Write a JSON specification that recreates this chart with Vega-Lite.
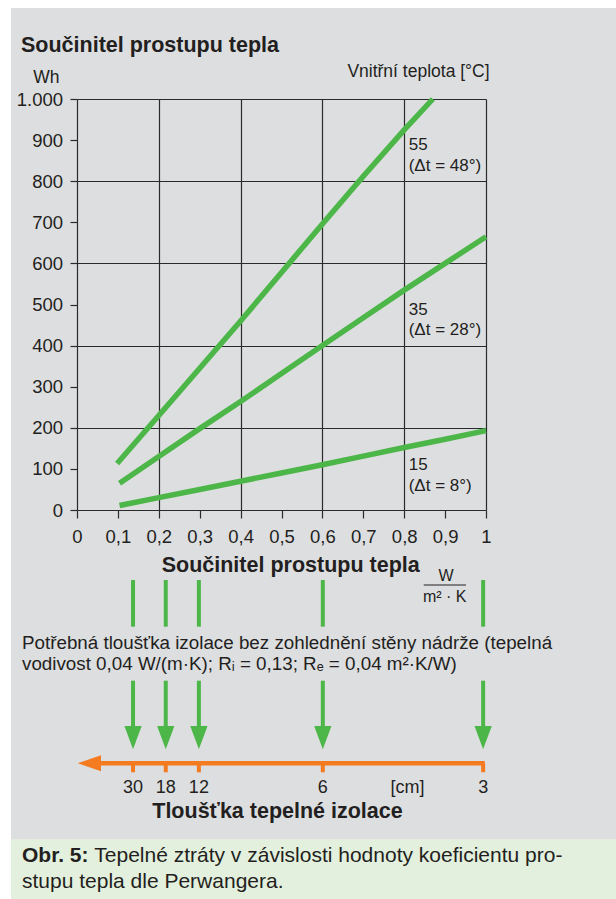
{
  "$schema": "https://vega.github.io/schema/vega-lite/v6.json",
  "width": 409,
  "height": 411,
  "autosize": {"type": "none"},
  "padding": {"left": 77, "top": 99, "right": 130, "bottom": 389},
  "background": "#dddee0",
  "config": {
    "view": {"stroke": null},
    "text": {"font": "Liberation Sans", "color": "#231f20"},
    "axis": {
      "labelFont": "Liberation Sans",
      "labelColor": "#231f20",
      "labelFontSize": 18.5,
      "domainColor": "#2a2a2a",
      "domainWidth": 1.2,
      "tickColor": "#2a2a2a",
      "tickWidth": 1.2,
      "gridColor": "#2a2a2a",
      "gridWidth": 1.2,
      "labelFlush": false,
      "labelOverlap": false,
      "labelBound": false
    }
  },
  "datasets": {
    "lines": [
      {"temp": "55", "u": 0.098, "wh": 113},
      {"temp": "55", "u": 0.2, "wh": 230},
      {"temp": "55", "u": 0.3, "wh": 345},
      {"temp": "55", "u": 0.4, "wh": 460},
      {"temp": "55", "u": 0.5, "wh": 578},
      {"temp": "55", "u": 0.6, "wh": 696},
      {"temp": "55", "u": 0.7, "wh": 812},
      {"temp": "55", "u": 0.8, "wh": 925},
      {"temp": "55", "u": 0.87, "wh": 1000},
      {"temp": "35", "u": 0.104, "wh": 65},
      {"temp": "35", "u": 0.2, "wh": 130},
      {"temp": "35", "u": 0.3, "wh": 198},
      {"temp": "35", "u": 0.4, "wh": 264},
      {"temp": "35", "u": 0.5, "wh": 332},
      {"temp": "35", "u": 0.6, "wh": 400},
      {"temp": "35", "u": 0.7, "wh": 468},
      {"temp": "35", "u": 0.8, "wh": 535},
      {"temp": "35", "u": 0.9, "wh": 600},
      {"temp": "35", "u": 1.0, "wh": 665},
      {"temp": "15", "u": 0.104, "wh": 11},
      {"temp": "15", "u": 0.2, "wh": 30},
      {"temp": "15", "u": 0.3, "wh": 50},
      {"temp": "15", "u": 0.4, "wh": 70},
      {"temp": "15", "u": 0.5, "wh": 90},
      {"temp": "15", "u": 0.6, "wh": 110},
      {"temp": "15", "u": 0.7, "wh": 131},
      {"temp": "15", "u": 0.8, "wh": 152},
      {"temp": "15", "u": 0.9, "wh": 172},
      {"temp": "15", "u": 1.0, "wh": 193}
    ],
    "thickness": [
      {"cm": "30", "u": 0.137},
      {"cm": "18", "u": 0.217},
      {"cm": "12", "u": 0.298},
      {"cm": "6", "u": 0.601},
      {"cm": "3", "u": 0.993}
    ]
  },
  "layer": [
    {
      "data": {"name": "lines"},
      "mark": {"type": "line", "color": "#4cb748", "strokeWidth": 5.5, "strokeCap": "butt"},
      "encoding": {
        "x": {
          "field": "u", "type": "quantitative",
          "scale": {"domain": [0, 1], "nice": false, "zero": false},
          "axis": {
            "title": null,
            "orient": "bottom",
            "values": [0, 0.1, 0.2, 0.3, 0.4, 0.5, 0.6, 0.7, 0.8, 0.9, 1],
            "labelExpr": "replace(format(datum.value, '.1~f'), '.', ',')",
            "tickSize": 8,
            "labelPadding": 9,
            "grid": true,
            "gridOpacity": {"condition": {"test": "round(datum.value * 10) % 2 == 0 && datum.value > 0", "value": 1}, "value": 0}
          }
        },
        "y": {
          "field": "wh", "type": "quantitative",
          "scale": {"domain": [0, 1000], "nice": false, "zero": false},
          "axis": {
            "title": null,
            "orient": "left",
            "values": [0, 100, 200, 300, 400, 500, 600, 700, 800, 900, 1000],
            "labelExpr": "datum.value == 1000 ? '1.000' : format(datum.value, 'd')",
            "tickSize": 7,
            "labelPadding": 7.5,
            "grid": true,
            "gridOpacity": {"condition": {"test": "datum.value % 200 == 0 && datum.value > 0", "value": 1}, "value": 0}
          }
        },
        "detail": {"field": "temp", "type": "nominal"}
      }
    },
    {
      "data": {"values": [{}]},
      "mark": {"type": "rect", "color": "#ffffff"},
      "encoding": {
        "x": {"datum": -0.2}, "x2": {"datum": 1.35},
        "y": {"datum": 1260}, "y2": {"datum": 1221.4}
      }
    },
    {
      "data": {"values": [{}]},
      "mark": {"type": "rect", "color": "#ffffff"},
      "encoding": {
        "x": {"datum": -0.2}, "x2": {"datum": -0.1614},
        "y": {"datum": 1260}, "y2": {"datum": -960}
      }
    },
    {
      "data": {"values": [{}]},
      "mark": {"type": "rect", "color": "#e4f0de"},
      "encoding": {
        "x": {"datum": -0.1614}, "x2": {"datum": 1.35},
        "y": {"datum": -801.2}, "y2": {"datum": -960}
      }
    },
    {
      "data": {"values": [{}]},
      "mark": {"type": "text", "text": ["55", "(Δt = 48°)"], "align": "left", "baseline": "alphabetic", "fontSize": 17, "lineHeight": 20.5},
      "encoding": {"x": {"datum": 0.811}, "y": {"datum": 875.9}}
    },
    {
      "data": {"values": [{}]},
      "mark": {"type": "text", "text": ["35", "(Δt = 28°)"], "align": "left", "baseline": "alphabetic", "fontSize": 17, "lineHeight": 20.5},
      "encoding": {"x": {"datum": 0.811}, "y": {"datum": 474.5}}
    },
    {
      "data": {"values": [{}]},
      "mark": {"type": "text", "text": ["15", "(Δt = 8°)"], "align": "left", "baseline": "alphabetic", "fontSize": 17, "lineHeight": 20.5},
      "encoding": {"x": {"datum": 0.811}, "y": {"datum": 97.3}}
    },
    {
      "data": {"values": [{}]},
      "mark": {"type": "text", "text": "Vnitřní teplota [°C]", "align": "right", "baseline": "alphabetic", "fontSize": 17.5},
      "encoding": {"x": {"datum": 1.0088}, "y": {"datum": 1052.8}}
    },
    {
      "data": {"values": [{}]},
      "mark": {"type": "text", "text": "Součinitel prostupu tepla", "align": "left", "baseline": "alphabetic", "fontSize": 21.5, "fontWeight": "bold"},
      "encoding": {"x": {"datum": -0.1369}, "y": {"datum": 1113.6}}
    },
    {
      "data": {"values": [{}]},
      "mark": {"type": "text", "text": "Wh", "align": "center", "baseline": "alphabetic", "fontSize": 17.5},
      "encoding": {"x": {"datum": -0.0751}, "y": {"datum": 1038.2}}
    },
    {
      "data": {"values": [{}]},
      "mark": {"type": "text", "text": "Součinitel prostupu tepla", "align": "center", "baseline": "alphabetic", "fontSize": 21.5, "fontWeight": "bold"},
      "encoding": {"x": {"datum": 0.5225}, "y": {"datum": -150.1}}
    },
    {
      "data": {"values": [{}]},
      "mark": {"type": "text", "text": "W", "align": "center", "baseline": "alphabetic", "fontSize": 16},
      "encoding": {"x": {"datum": 0.9022}, "y": {"datum": -172.0}}
    },
    {
      "data": {"values": [{}]},
      "mark": {"type": "rule", "color": "#231f20", "strokeWidth": 1.2},
      "encoding": {"x": {"datum": 0.8477}, "x2": {"datum": 0.9511}, "y": {"datum": -182.5}}
    },
    {
      "data": {"values": [{}]},
      "mark": {"type": "text", "text": "m² · K", "align": "center", "baseline": "alphabetic", "fontSize": 16},
      "encoding": {"x": {"datum": 0.899}, "y": {"datum": -223.1}}
    },
    {
      "data": {"name": "thickness"},
      "mark": {"type": "rule", "color": "#4cb748", "strokeWidth": 4},
      "encoding": {"x": {"field": "u", "type": "quantitative"}, "y": {"datum": -170.3}, "y2": {"datum": -283.9}}
    },
    {
      "data": {"values": [{}]},
      "mark": {"type": "text", "text": ["Potřebná tloušťka izolace bez zohlednění stěny nádrže (tepelná", "vodivost 0,04 W/(m·K); Rᵢ = 0,13; Rₑ = 0,04 m²·K/W)"], "align": "left", "baseline": "alphabetic", "fontSize": 18.8, "lineHeight": 21},
      "encoding": {"x": {"datum": -0.1345}, "y": {"datum": -338.2}}
    },
    {
      "data": {"name": "thickness"},
      "mark": {"type": "rule", "color": "#4cb748", "strokeWidth": 4},
      "encoding": {"x": {"field": "u", "type": "quantitative"}, "y": {"datum": -415.3}, "y2": {"datum": -530.4}}
    },
    {
      "data": {"name": "thickness"},
      "mark": {"type": "point", "shape": "M-0.742,-1L0.742,-1L0,1Z", "size": 543, "filled": true, "opacity": 1, "color": "#4cb748", "strokeWidth": 0},
      "encoding": {"x": {"field": "u", "type": "quantitative"}, "y": {"datum": -554.0}}
    },
    {
      "data": {"values": [{}]},
      "mark": {"type": "rule", "color": "#f47b20", "strokeWidth": 4.6},
      "encoding": {"x": {"datum": 0.052}, "x2": {"datum": 0.997}, "y": {"datum": -616.3}}
    },
    {
      "data": {"values": [{}]},
      "mark": {"type": "point", "shape": "M-1,0L1,-0.687L1,0.687Z", "size": 543, "filled": true, "opacity": 1, "color": "#f47b20", "strokeWidth": 0},
      "encoding": {"x": {"datum": 0.0302}, "y": {"datum": -616.3}}
    },
    {
      "data": {"name": "thickness"},
      "mark": {"type": "rule", "color": "#f47b20", "strokeWidth": 4},
      "encoding": {"x": {"field": "u", "type": "quantitative"}, "y": {"datum": -616.3}, "y2": {"datum": -638.2}}
    },
    {
      "data": {"name": "thickness"},
      "mark": {"type": "text", "align": "center", "baseline": "alphabetic", "fontSize": 18},
      "encoding": {"x": {"field": "u", "type": "quantitative"}, "y": {"datum": -689.3}, "text": {"field": "cm"}}
    },
    {
      "data": {"values": [{}]},
      "mark": {"type": "text", "text": "[cm]", "align": "center", "baseline": "alphabetic", "fontSize": 18},
      "encoding": {"x": {"datum": 0.808}, "y": {"datum": -689.3}}
    },
    {
      "data": {"values": [{}]},
      "mark": {"type": "text", "text": "Tloušťka tepelné izolace", "align": "center", "baseline": "alphabetic", "fontSize": 21.5, "fontWeight": "bold"},
      "encoding": {"x": {"datum": 0.4902}, "y": {"datum": -750.1}}
    },
    {
      "data": {"values": [{}]},
      "mark": {"type": "text", "text": "Obr. 5:", "align": "left", "baseline": "alphabetic", "fontSize": 21, "fontWeight": "bold"},
      "encoding": {"x": {"datum": -0.1345}, "y": {"datum": -855.7}}
    },
    {
      "data": {"values": [{}]},
      "mark": {"type": "text", "text": "Tepelné ztráty v závislosti hodnoty koeficientu pro-", "align": "left", "baseline": "alphabetic", "fontSize": 21},
      "encoding": {"x": {"datum": 0.0423}, "y": {"datum": -855.7}}
    },
    {
      "data": {"values": [{}]},
      "mark": {"type": "text", "text": "stupu tepla dle Perwangera.", "align": "left", "baseline": "alphabetic", "fontSize": 21},
      "encoding": {"x": {"datum": -0.1345}, "y": {"datum": -920.4}}
    }
  ]
}
